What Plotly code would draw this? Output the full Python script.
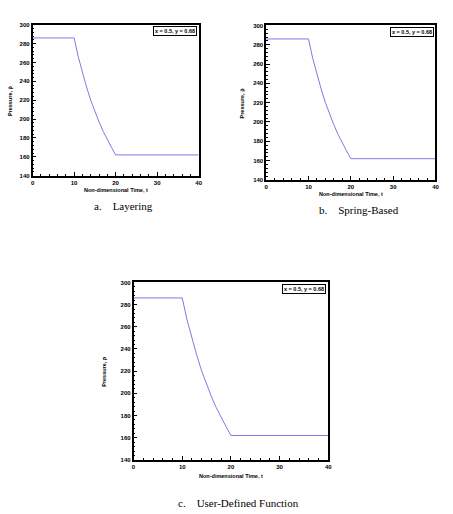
import plotly.graph_objects as go

time = [0, 10, 11, 12, 13, 14, 15, 16, 17, 18, 19, 20, 40]
pressure = [286, 286, 266, 249, 234, 220, 208, 197, 187, 178, 170, 162, 162]
x_ticks = [0, 10, 20, 30, 40]
y_ticks = [140, 160, 180, 200, 220, 240, 260, 280, 300]
captions = ["a.    Layering", "b.    Spring-Based", "c.    User-Defined Function"]
probe_label = "x = 0.5, y = 0.68"

W, H = 453, 514
# plot frames in pixels: (left, right, top, bottom)
frames = [(31, 199.3, 22, 174.7), (267.7, 439.3, 22.7, 179), (133.3, 330.7, 282.7, 462.3)]
xtitle_y = [189, 193, 479]
ytitle_x = [8, 243, 104]
caption_pos = [(123, 205), (362, 209), (240, 506)]

fig = go.Figure()
sans = dict(family="Liberation Sans, Arial, sans-serif", size=6, color="black", weight="bold")
title_font = dict(family="Liberation Sans, Arial, sans-serif", size=5.5, color="black", weight="bold")

for i, (l, r, t, b) in enumerate(frames):
    n = "" if i == 0 else str(i + 1)
    fig.add_trace(go.Scatter(x=time, y=pressure, mode="lines",
                             line=dict(color="#7a7ae6", width=1),
                             xaxis="x" + n, yaxis="y" + n, showlegend=False))
    common = dict(showgrid=False, zeroline=False, showline=True, linecolor="black",
                  linewidth=1.5, mirror=True, ticks="inside", ticklen=4, tickwidth=1,
                  tickcolor="black", tickfont=sans)
    fig.update_layout(**{
        "xaxis" + n: dict(domain=[l / W, r / W], range=[0, 40], tickvals=x_ticks,
                          anchor="y" + n, minor=dict(dtick=2, ticks="inside", ticklen=2,
                                                     tickcolor="black"), **common),
        "yaxis" + n: dict(domain=[1 - b / H, 1 - t / H], range=[140, 300], tickvals=y_ticks,
                          anchor="x" + n, minor=dict(dtick=4, ticks="inside", ticklen=2,
                                                     tickcolor="black"), **common),
    })
    fig.add_annotation(xref="x" + n + " domain", yref="y" + n + " domain", x=0.99, y=0.99,
                       xanchor="right", yanchor="top", text=probe_label, showarrow=False,
                       font=title_font, bordercolor="black", borderwidth=1, borderpad=1,
                       bgcolor="white")
    fig.add_annotation(xref="paper", yref="paper", x=(l + r) / 2 / W, y=1 - xtitle_y[i] / H,
                       text="Non-dimensional Time, t", showarrow=False, font=title_font,
                       xanchor="center", yanchor="middle")
    fig.add_annotation(xref="paper", yref="paper", x=ytitle_x[i] / W, y=1 - (t + b) / 2 / H,
                       text="Pressure, p\u0304", showarrow=False, font=title_font, textangle=-90,
                       xanchor="center", yanchor="middle")
    cx, cy = caption_pos[i]
    fig.add_annotation(xref="paper", yref="paper", x=cx / W, y=1 - cy / H,
                       text=captions[i], showarrow=False,
                       font=dict(family="Liberation Serif, Times New Roman, serif", size=11,
                                 color="black"),
                       xanchor="center", yanchor="middle")

fig.update_layout(width=W, height=H, margin=dict(l=0, r=0, t=0, b=0),
                  paper_bgcolor="white", plot_bgcolor="white")
fig.write_html("out.html")
